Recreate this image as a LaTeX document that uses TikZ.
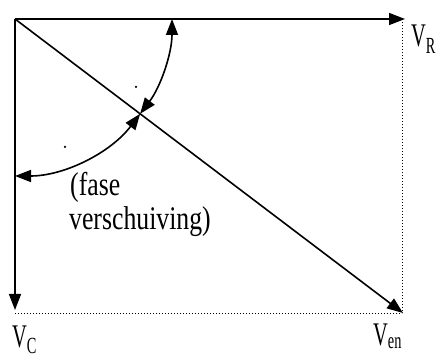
\documentclass[tikz,border=0pt]{standalone}
\usepackage{fontspec}
\setmainfont{Liberation Serif}
\usetikzlibrary{arrows.meta}
\begin{document}
\begin{tikzpicture}[x=1pt,y=1pt,
  vec/.style={line width=1.6pt,-{Triangle[length=16pt,width=12pt]}},
  ang/.style={line width=1.6pt,{Triangle[length=16pt,width=12pt]}-{Triangle[length=16pt,width=12pt]}},
  aux/.style={line width=1pt,dash pattern=on 1pt off 2pt},
  lbl/.style={inner sep=0pt,anchor=base west,font=\fontsize{33}{38}\selectfont},
  dotmark/.style={circle,fill=black,inner sep=0pt,minimum size=2.5pt}]
\useasboundingbox (0,0) rectangle (436,356);
\coordinate (O) at (15,337);
\coordinate (R) at (405,337);
\coordinate (C) at (15,46);
\coordinate (E) at (403,43);
\coordinate (RC) at (402,337);
\coordinate (EC) at (402,43);
\coordinate (CC) at (15,43);
% dotted completion lines
\draw[aux] (RC) -- (EC);
\draw[aux] (CC) -- (EC);
% vectors
\draw[vec] (O) -- (R);
\draw[vec] (O) -- (C);
\draw[vec] (O) -- (E);
% angle arcs
\draw[ang] (O) ++(0:157) arc (0:-37.15:157);
\draw[ang] (O) ++(-37.15:157) arc (-37.15:-90:157);
\node[dotmark] (d1) at (136,269) {};
\node[dotmark] (d2) at (65,209) {};
% labels
\node[lbl] (t1) at (70,160) {\scalebox{0.78}[1]{(fase}};
\node[lbl] (t2) at (69,126) {\scalebox{0.78}[1]{verschuiving)}};
\node[lbl] (vr) at (411,309) {\scalebox{0.62}[1]{V\textsubscript{R}}};
\node[lbl] (ve) at (373,11) {\scalebox{0.62}[1]{V\textsubscript{en}}};
\node[lbl] (vc) at (12,9) {\scalebox{0.62}[1]{V\textsubscript{C}}};
\end{tikzpicture}
\end{document}
